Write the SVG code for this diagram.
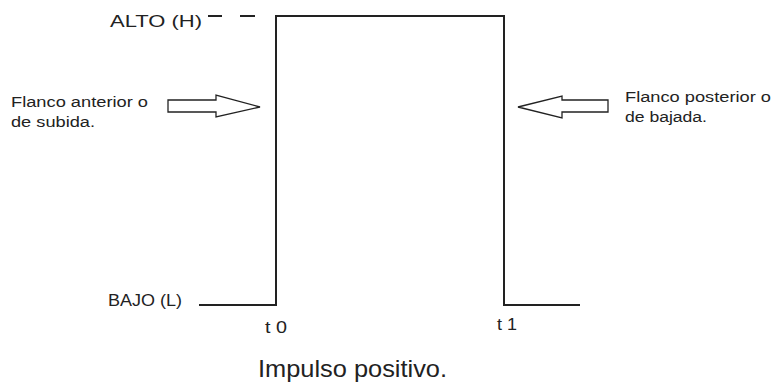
<svg xmlns="http://www.w3.org/2000/svg" width="774" height="385" viewBox="0 0 774 385">
  <style>
    .lbl { font-family: "Liberation Sans", Arial, sans-serif; fill: #222; }
    .sig { fill: none; stroke: #222; stroke-width: 2; }
    .arrow { fill: #fff; stroke: #222; stroke-width: 1.3; stroke-linejoin: miter; }
  </style>
  <rect width="774" height="385" fill="#fff"/>

  <!-- level labels -->
  <g id="alto">
    <text class="lbl" x="110" y="27" font-size="16.5" textLength="92" lengthAdjust="spacingAndGlyphs">ALTO (H)</text>
    <line class="sig" x1="208" y1="16" x2="222" y2="16"/>
    <line class="sig" x1="240" y1="16" x2="255" y2="16"/>
  </g>
  <g id="bajo">
    <text class="lbl" x="108" y="306" font-size="16.5" textLength="74" lengthAdjust="spacingAndGlyphs">BAJO (L)</text>
  </g>

  <!-- pulse waveform -->
  <g id="pulso">
    <polyline class="sig" points="199,305 276,305 276,16 504,16 504,305 580,305"/>
  </g>

  <!-- edge annotations -->
  <g id="flanco-anterior">
    <text class="lbl" x="11" y="107" font-size="15.5" textLength="137" lengthAdjust="spacingAndGlyphs">Flanco anterior o</text>
    <text class="lbl" x="11" y="127" font-size="15.5" textLength="84" lengthAdjust="spacingAndGlyphs">de subida.</text>
    <polygon class="arrow" points="168,100 216,100 216,95 260,107 216,117 216,112 168,112"/>
  </g>
  <g id="flanco-posterior">
    <text class="lbl" x="625" y="102" font-size="15.5" textLength="146" lengthAdjust="spacingAndGlyphs">Flanco posterior o</text>
    <text class="lbl" x="625" y="122" font-size="15.5" textLength="82" lengthAdjust="spacingAndGlyphs">de bajada.</text>
    <polygon class="arrow" points="608,100 562,100 562,96 518,107 562,118 562,112 608,112"/>
  </g>

  <!-- time marks -->
  <g id="t0">
    <text class="lbl" x="265" y="333" font-size="16.5" textLength="22" lengthAdjust="spacingAndGlyphs">t 0</text>
  </g>
  <g id="t1">
    <text class="lbl" x="497" y="330" font-size="16.5" textLength="20" lengthAdjust="spacingAndGlyphs">t 1</text>
  </g>

  <!-- caption -->
  <g id="titulo">
    <text class="lbl" x="258" y="377" font-size="24" textLength="189" lengthAdjust="spacingAndGlyphs">Impulso positivo.</text>
  </g>
</svg>
